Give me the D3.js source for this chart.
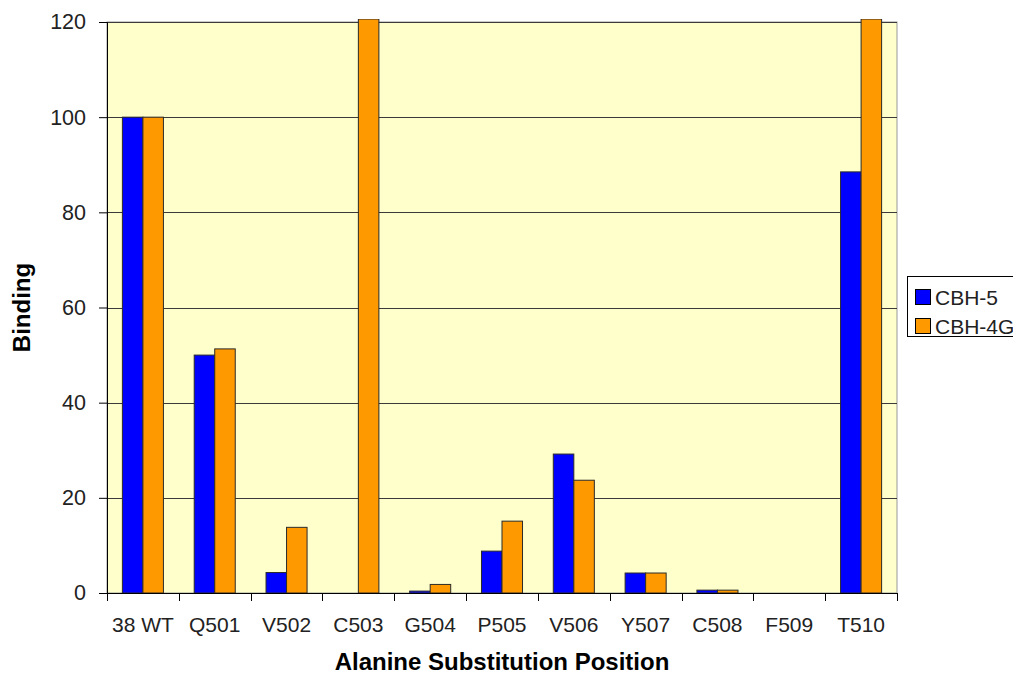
<!DOCTYPE html>
<html>
<head>
<meta charset="utf-8">
<script src="https://cdn.jsdelivr.net/npm/d3@7"></script>
<style>
  html, body { margin: 0; padding: 0; background: #fff; }
  svg { display: block; font-family: "Liberation Sans", Arial, sans-serif; }
</style>
</head>
<body>
<svg id="chart" width="1013" height="675"></svg>
<script>
// Alanine scan: binding of two antibodies to each substituted position
const categories = ["38 WT", "Q501", "V502", "C503", "G504", "P505", "V506", "Y507", "C508", "F509", "T510"];
const seriesNames = ["CBH-5", "CBH-4G"];
const cbh5 = [100, 50.0, 4.3, 0, 0.4, 8.8, 29.2, 4.2, 0.6, 0, 88.5];
const cbh4g = [100, 51.3, 13.8, 130, 1.8, 15.1, 23.7, 4.2, 0.6, 0, 130];
const yTicks = [0, 20, 40, 60, 80, 100, 120];
const colors = ["#0000FF", "#FF9900"];

const svg = d3.select("#chart");
const plot = { left: 107, top: 22, right: 897, bottom: 593 };

const x = d3.scaleBand().domain(categories).range([plot.left, plot.right]).paddingInner(0).paddingOuter(0);
const y = d3.scaleLinear().domain([0, 120]).range([plot.bottom, plot.top]);
// two bars per category with a 150% gap
const barW = x.bandwidth() / 3.5;

// plot area
svg.append("rect")
  .attr("x", plot.left).attr("y", plot.top)
  .attr("width", plot.right - plot.left).attr("height", plot.bottom - plot.top)
  .attr("fill", "#FFFFCC").attr("stroke", "#999").attr("stroke-width", 1);

// horizontal gridlines
svg.append("g").selectAll("line").data(yTicks.filter(d => d > 0)).join("line")
  .attr("x1", plot.left).attr("x2", plot.right)
  .attr("y1", d => Math.round(y(d)) + 0.5).attr("y2", d => Math.round(y(d)) + 0.5)
  .attr("stroke", "#3a3a3a").attr("stroke-width", 1.2);

// bars (allowed to overrun the top edge slightly)
svg.append("defs").append("clipPath").attr("id", "clip")
  .append("rect").attr("x", plot.left).attr("y", plot.top - 3)
  .attr("width", plot.right - plot.left).attr("height", plot.bottom - plot.top + 3);

const rows = categories.map((c, i) => ({ c, vals: [cbh5[i], cbh4g[i]] }));
const bars = svg.append("g").attr("clip-path", "url(#clip)");
rows.forEach(r => {
  r.vals.forEach((v, s) => {
    if (v <= 0) return;
    const x0 = x(r.c) + x.bandwidth() / 2 - barW + s * barW;
    const top = Math.max(y(v), plot.top - 3);
    bars.append("rect")
      .attr("x", x0).attr("y", top)
      .attr("width", barW).attr("height", Math.max(plot.bottom - top, 0.8))
      .attr("fill", colors[s]).attr("stroke", "#2a2a2a").attr("stroke-width", 1);
  });
});

// y axis
const yAxis = d3.axisLeft(y).tickValues(yTicks).tickSize(8).tickPadding(13).tickFormat(d3.format("d"));
const gy = svg.append("g").attr("transform", `translate(${plot.left},0)`).call(yAxis);
gy.select(".domain").attr("stroke", "#000");
gy.selectAll(".tick line").attr("stroke", "#000");
gy.selectAll("text").attr("font-size", 21.5).attr("fill", "#222").attr("font-family", "Liberation Sans, Arial, sans-serif");

// x axis with ticks on category boundaries
const gx = svg.append("g").attr("transform", `translate(0,${plot.bottom})`);
gx.append("line").attr("x1", plot.left).attr("x2", plot.right).attr("y1", 0.5).attr("y2", 0.5).attr("stroke", "#000");
const boundaries = categories.map(c => x(c)).concat([plot.right]);
gx.selectAll("line.tk").data(boundaries).join("line").attr("class", "tk")
  .attr("x1", d => Math.round(d) + 0.5).attr("x2", d => Math.round(d) + 0.5)
  .attr("y1", 0).attr("y2", 8).attr("stroke", "#000");
gx.selectAll("text").data(categories).join("text")
  .attr("x", d => x(d) + x.bandwidth() / 2).attr("y", 39)
  .attr("text-anchor", "middle").attr("font-size", 21).attr("fill", "#222")
  .text(d => d);

// axis titles
svg.append("text")
  .attr("x", (plot.left + plot.right) / 2).attr("y", 670)
  .attr("text-anchor", "middle").attr("font-size", 24).attr("font-weight", "bold").attr("fill", "#000")
  .text("Alanine Substitution Position");
svg.append("text")
  .attr("transform", `translate(30,${(plot.top + plot.bottom) / 2}) rotate(-90)`)
  .attr("text-anchor", "middle").attr("font-size", 24).attr("font-weight", "bold").attr("fill", "#000")
  .text("Binding");

// legend
const lg = svg.append("g");
lg.append("rect").attr("x", 907.5).attr("y", 276.5).attr("width", 120).attr("height", 60)
  .attr("fill", "#fff").attr("stroke", "#000");
seriesNames.forEach((n, i) => {
  lg.append("rect").attr("x", 915.5).attr("y", 289.5 + i * 29).attr("width", 15).attr("height", 15)
    .attr("fill", colors[i]).attr("stroke", "#000");
  lg.append("text").attr("x", 935).attr("y", 305 + i * 29)
    .attr("font-size", 21).attr("fill", "#222").text(n);
});
</script>
</body>
</html>
